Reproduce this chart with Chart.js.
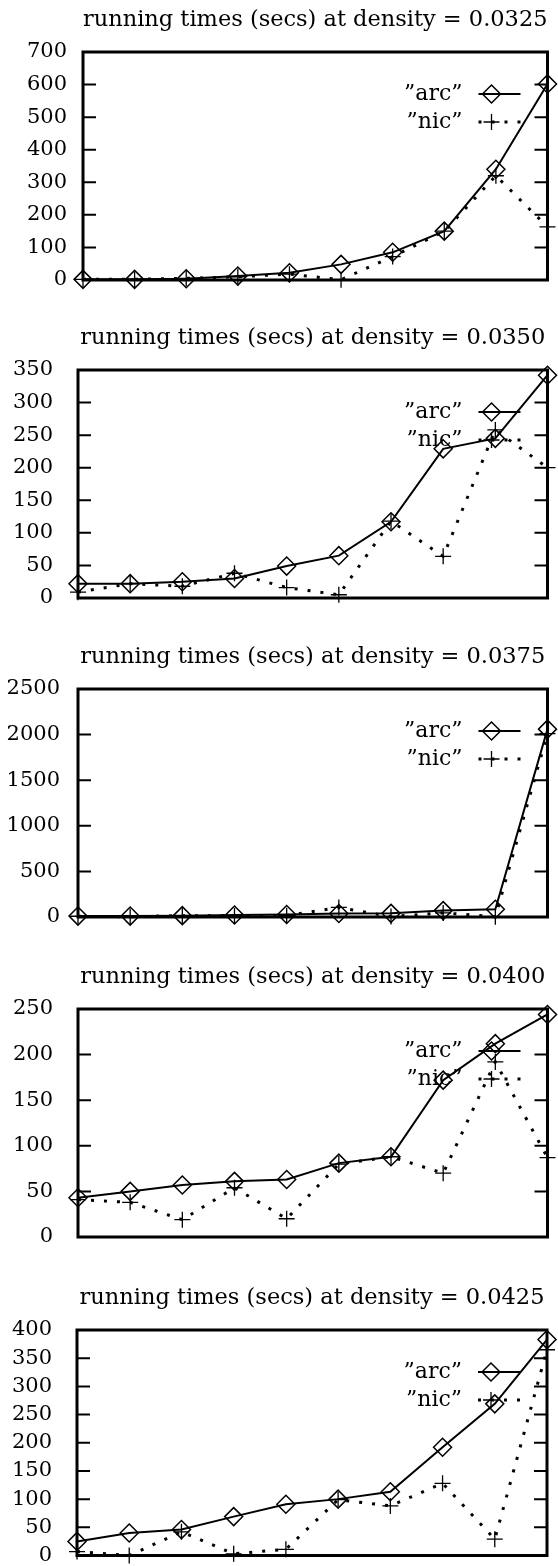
<!DOCTYPE html>
<html>
<head>
<meta charset="utf-8">
<script src="https://cdn.jsdelivr.net/npm/chart.js@4.4.1/dist/chart.umd.min.js"></script>
<style>
  body { margin: 0; background: #fff; }
  .box { position: absolute; left: 0; width: 558px; }
</style>
</head>
<body>
<div class="box" id="b1"><canvas id="c1"></canvas></div>
<div class="box" id="b2"><canvas id="c2"></canvas></div>
<div class="box" id="b3"><canvas id="c3"></canvas></div>
<div class="box" id="b4"><canvas id="c4"></canvas></div>
<div class="box" id="b5"><canvas id="c5"></canvas></div>
<script>
// runs along x (no tick labels shown in the original)
const runs = ["1", "2", "3", "4", "5", "6", "7", "8", "9", "10"];
const densities = ["0.0325", "0.0350", "0.0375", "0.0400", "0.0425"];

// running times (secs)
const arc1 = [2, 2, 4, 12, 22, 48, 85, 150, 340, 602];
const nic1 = [2, 2, 5, 10, 18, 1, 72, 150, 320, 163];
const arc2 = [22, 22, 25, 30, 49, 65, 117, 229, 245, 342];
const nic2 = [9, 22, 18, 38, 16, 5, 118, 64, 258, 200];
const arc3 = [10, 10, 15, 22, 28, 38, 40, 70, 85, 2060];
const nic3 = [8, 3, 15, 12, 15, 105, 5, 45, 3, 2010];
const arc4 = [43, 50, 57, 61, 63, 81, 88, 172, 212, 244];
const nic4 = [41, 38, 19, 54, 20, 80, 88, 70, 192, 87];
const arc5 = [25, 40, 46, 69, 91, 100, 113, 192, 269, 383];
const nic5 = [7, 0, 42, 3, 11, 99, 88, 128, 29, 365];

const arcSeries = [arc1, arc2, arc3, arc4, arc5];
const nicSeries = [nic1, nic2, nic3, nic4, nic5];

// y axis per panel
const yMax = [700, 350, 2500, 250, 400];
const yStep = [100, 50, 500, 50, 50];

// panel placement
const boxTop = [0, 318, 637, 957, 1278];
const boxHeight = [300, 300, 300, 300, 288];
const leftW = [83, 78, 78, 78, 77];
const rightPad = [5, 10, 10, 10, 11];
const labelPad = [16, 25, 18, 25, 25];

const FONT = "DejaVu Serif";
Chart.defaults.font.family = FONT;
Chart.defaults.color = "#000";

// border box and inward ticks on both sides, like gnuplot
const framePlugin = {
  id: "frame",
  beforeDatasetsDraw(chart) {
    const ctx = chart.ctx;
    const a = chart.chartArea;
    const y = chart.scales.y;
    ctx.save();
    ctx.strokeStyle = "#000";
    ctx.lineWidth = 2;
    y.ticks.forEach((t) => {
      const py = y.getPixelForValue(t.value);
      ctx.beginPath();
      ctx.moveTo(a.left, py);
      ctx.lineTo(a.left + 13, py);
      ctx.moveTo(a.right, py);
      ctx.lineTo(a.right - 13, py);
      ctx.stroke();
    });
    ctx.lineWidth = 3;
    ctx.strokeRect(a.left, a.top, a.right - a.left, a.bottom - a.top);
    ctx.restore();
  },
};

// key inside the plot, top right
const keyPlugin = {
  id: "gpKey",
  beforeDatasetsDraw(chart) {
    const ctx = chart.ctx;
    const a = chart.chartArea;
    ctx.save();
    chart.data.datasets.forEach((ds, i) => {
      const y = a.top + 42 + i * 28;
      ctx.fillStyle = "#000";
      ctx.font = "22px '" + FONT + "'";
      ctx.textAlign = "right";
      ctx.textBaseline = "middle";
      ctx.fillText(ds.label, a.right - 85, y);

      ctx.strokeStyle = "#000";
      ctx.lineWidth = ds.borderWidth;
      ctx.lineCap = "butt";
      ctx.setLineDash(ds.borderDash || []);
      ctx.beginPath();
      ctx.moveTo(a.right - 69, y);
      ctx.lineTo(a.right - 27, y);
      ctx.stroke();
      ctx.setLineDash([]);

      ctx.fillStyle = "rgba(0,0,0,0)";
      ctx.lineWidth = ds.pointBorderWidth;
      if (Chart.helpers && Chart.helpers.drawPoint) {
        Chart.helpers.drawPoint(
          ctx,
          { pointStyle: ds.pointStyle, radius: ds.pointRadius, borderWidth: ds.pointBorderWidth, rotation: 0 },
          a.right - 56,
          y
        );
      }
    });
    ctx.restore();
  },
};

function makeChart(i) {
  const box = document.getElementById("b" + (i + 1));
  box.style.top = boxTop[i] + "px";
  box.style.height = boxHeight[i] + "px";

  new Chart(document.getElementById("c" + (i + 1)), {
    type: "line",
    data: {
      labels: runs,
      datasets: [
        {
          label: "\u201Darc\u201D",
          data: arcSeries[i],
          borderColor: "#000",
          borderWidth: 2,
          pointStyle: "rectRot",
          pointRadius: 9,
          pointBorderWidth: 1.5,
          pointBackgroundColor: "rgba(0,0,0,0)",
          tension: 0,
          clip: false,
        },
        {
          label: "\u201Dnic\u201D",
          data: nicSeries[i],
          borderColor: "#000",
          borderWidth: 3,
          borderDash: [3, 10],
          borderCapStyle: "butt",
          pointStyle: "cross",
          pointRadius: 8,
          pointBorderWidth: 1.3,
          pointBackgroundColor: "rgba(0,0,0,0)",
          tension: 0,
          clip: false,
        },
      ],
    },
    options: {
      responsive: true,
      maintainAspectRatio: false,
      animation: false,
      events: [],
      layout: {
        padding: { left: 0, right: rightPad[i], top: 0, bottom: boxHeight[i] - 280 },
      },
      scales: {
        x: {
          type: "category",
          display: false,
          offset: false,
        },
        y: {
          min: 0,
          max: yMax[i],
          ticks: {
            stepSize: yStep[i],
            autoSkip: false,
            color: "#000",
            padding: labelPad[i],
            font: { family: FONT, size: 21 },
            callback: (v) => String(v),
          },
          grid: { display: false, drawTicks: false },
          border: { display: false },
          afterFit(s) {
            s.width = leftW[i];
            s.paddingTop = 0;
            s.paddingBottom = 0;
          },
        },
      },
      plugins: {
        legend: { display: false },
        tooltip: { enabled: false },
        title: {
          display: true,
          text: "running times (secs) at density = " + densities[i],
          fullSize: false,
          color: "#000",
          font: { family: FONT, size: 22.5, weight: "normal", lineHeight: 1.2 },
          padding: { top: 7, bottom: 18 },
        },
      },
    },
    plugins: [framePlugin, keyPlugin],
  });
}

for (let i = 0; i < 5; i++) {
  makeChart(i);
}
</script>
</body>
</html>
